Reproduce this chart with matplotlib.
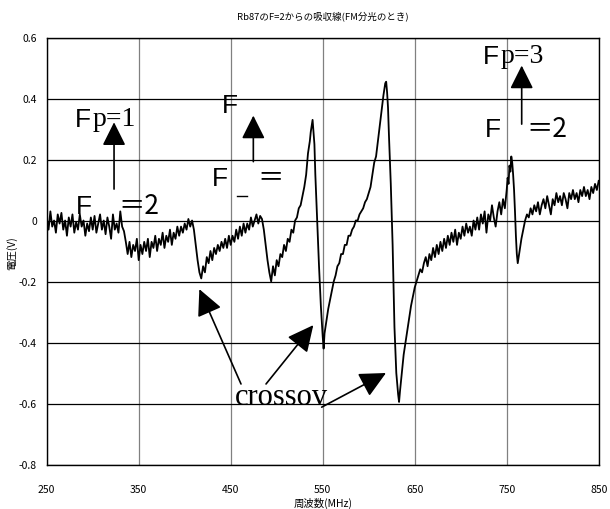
import matplotlib
matplotlib.use("Agg")
import matplotlib.pyplot as plt

# ---- data ----
freq = [250, 252, 254, 256, 258, 260, 262, 264, 266, 268, 270, 272, 274, 276, 278, 280, 282, 284, 286, 288,
        290, 292, 294, 296, 298, 300, 302, 304, 306, 308, 310, 312, 314, 316, 318, 320, 322, 324, 326, 328,
        330, 332, 334, 336, 338, 340, 342, 344, 346, 348, 350, 352, 354, 356, 358, 360, 362, 364, 366, 368,
        370, 372, 374, 376, 378, 380, 382, 384, 386, 388, 390, 392, 394, 396, 398, 400, 402, 404, 406, 408,
        410, 412, 414, 416, 418, 420, 422, 424, 426, 428, 430, 432, 434, 436, 438, 440, 442, 444, 446, 448,
        450, 452, 454, 456, 458, 460, 462, 464, 466, 468, 470, 472, 474, 476, 478, 480, 482, 484, 486, 488,
        490, 492, 494, 496, 498, 500, 502, 504, 506, 508, 510, 512, 514, 516, 518, 520, 522, 524, 526, 528,
        530, 532, 534, 536, 537, 538, 539, 540, 541, 542, 544, 546, 548, 550, 551, 552, 554, 556, 558, 560,
        562, 564, 566, 568, 570, 572, 574, 576, 578, 580, 582, 584, 586, 588, 590, 592, 594, 596, 598, 600,
        602, 604, 606, 608, 610, 612, 614, 616, 618, 619, 620, 621, 622, 624, 626, 628, 630, 632, 633, 634,
        636, 638, 640, 642, 644, 646, 648, 650, 652, 654, 656, 658, 660, 662, 664, 666, 668, 670, 672, 674,
        676, 678, 680, 682, 684, 686, 688, 690, 692, 694, 696, 698, 700, 702, 704, 706, 708, 710, 712, 714,
        716, 718, 720, 722, 724, 726, 728, 730, 732, 734, 736, 738, 740, 742, 744, 746, 748, 750, 751, 752,
        753, 754, 755, 756, 757, 758, 759, 760, 761, 762, 763, 764, 766, 768, 770, 772, 774, 776, 778, 780,
        782, 784, 786, 788, 790, 792, 794, 796, 798, 800, 802, 804, 806, 808, 810, 812, 814, 816, 818, 820,
        822, 824, 826, 828, 830, 832, 834, 836, 838, 840, 842, 844, 846, 848, 850]
volt = [0.01, -0.03, 0.03, -0.02, 0.00, -0.04, 0.02, -0.01, 0.025, -0.03, 0.00, -0.05, 0.01, -0.02, 0.02, -0.04, -0.005, -0.03, 0.02, -0.02,
        0.00, -0.05, -0.01, -0.035, 0.01, -0.03, 0.015, -0.04, -0.01, 0.02, -0.03, 0.00, -0.045, 0.01, -0.02, -0.06, 0.02, -0.03, -0.01, -0.04,
        0.03, -0.02, -0.035, -0.07, -0.11, -0.07, -0.12, -0.08, -0.10, -0.06, -0.13, -0.08, -0.11, -0.07, -0.10, -0.06, -0.12, -0.07, -0.09, -0.05,
        -0.10, -0.06, -0.08, -0.04, -0.09, -0.05, -0.07, -0.03, -0.08, -0.04, -0.06, -0.02, -0.05, -0.02, -0.04, -0.01, -0.03, 0.005, -0.02, 0.00,
        -0.03, -0.08, -0.13, -0.17, -0.19, -0.15, -0.17, -0.12, -0.14, -0.10, -0.13, -0.09, -0.11, -0.08, -0.10, -0.07, -0.09, -0.06, -0.09, -0.05,
        -0.08, -0.05, -0.07, -0.03, -0.06, -0.02, -0.05, -0.01, -0.04, -0.01, -0.03, 0.01, -0.02, 0.00, 0.02, -0.01, 0.015, 0.005, -0.03, -0.08,
        -0.13, -0.17, -0.20, -0.15, -0.18, -0.13, -0.15, -0.11, -0.12, -0.08, -0.10, -0.06, -0.07, -0.03, -0.04, 0.00, 0.01, 0.04, 0.05, 0.08,
        0.11, 0.15, 0.22, 0.26, 0.29, 0.31, 0.33, 0.29, 0.25, 0.15, 0.00, -0.15, -0.28, -0.38, -0.42, -0.37, -0.33, -0.29, -0.26, -0.23,
        -0.20, -0.18, -0.15, -0.14, -0.11, -0.11, -0.08, -0.08, -0.05, -0.05, -0.03, -0.02, 0.00, 0.00, 0.02, 0.03, 0.04, 0.06, 0.07, 0.09,
        0.11, 0.15, 0.19, 0.21, 0.26, 0.31, 0.36, 0.41, 0.45, 0.455, 0.42, 0.37, 0.28, 0.12, -0.08, -0.35, -0.50, -0.57, -0.595, -0.56,
        -0.50, -0.44, -0.40, -0.36, -0.32, -0.28, -0.25, -0.22, -0.20, -0.18, -0.16, -0.17, -0.14, -0.12, -0.15, -0.11, -0.13, -0.09, -0.12, -0.08,
        -0.11, -0.07, -0.10, -0.06, -0.09, -0.05, -0.08, -0.04, -0.07, -0.03, -0.08, -0.04, -0.06, -0.02, -0.05, -0.01, -0.04, -0.02, -0.05, 0.00,
        -0.03, 0.01, -0.03, 0.02, -0.01, 0.03, -0.04, 0.02, 0.00, 0.05, 0.01, -0.02, 0.03, 0.06, 0.02, 0.07, 0.04, 0.10, 0.14, 0.12,
        0.18, 0.16, 0.21, 0.19, 0.15, 0.10, 0.03, -0.05, -0.11, -0.14, -0.12, -0.10, -0.06, -0.03, 0.00, 0.02, 0.01, 0.04, 0.02, 0.05,
        0.03, 0.06, 0.02, 0.05, 0.07, 0.04, 0.08, 0.05, 0.02, 0.07, 0.05, 0.09, 0.06, 0.08, 0.05, 0.09, 0.07, 0.04, 0.09, 0.07,
        0.10, 0.07, 0.09, 0.06, 0.10, 0.08, 0.11, 0.08, 0.10, 0.07, 0.11, 0.09, 0.12, 0.10, 0.13]

x_ticks = [250, 350, 450, 550, 650, 750, 850]
y_ticks = [0.6, 0.4, 0.2, 0, -0.2, -0.4, -0.6, -0.8]
y_ticklabels = ["0.6", "0.4", "0.2", "0", "-0.2", "-0.4", "-0.6", "-0.8"]

title = "Rb87のF=2からの吸収線(FM分光のとき)"
xlabel = "周波数(MHz)"
ylabel = "電圧(V)"

NARROW = ["Liberation Sans Narrow", "Noto Sans CJK JP", "DejaVu Sans"]
SANS = ["Liberation Sans", "DejaVu Sans"]
SERIF = ["Liberation Serif", "DejaVu Serif"]
CJK = ["Noto Sans CJK JP", "DejaVu Sans"]

fig = plt.figure(figsize=(6.1, 5.1), dpi=100)
ax = fig.add_axes([46.7 / 610, 1 - 465.5 / 510, (598.7 - 46.7) / 610, (465.5 - 38.5) / 510])

ax.plot(freq, volt, color="black", lw=1.3, zorder=3)

ax.set_xlim(250, 850)
ax.set_ylim(-0.8, 0.6)
ax.set_xticks(x_ticks)
ax.set_yticks(y_ticks)
ax.set_yticklabels(y_ticklabels)
for lab in ax.get_xticklabels() + ax.get_yticklabels():
    lab.set_family(NARROW)
    lab.set_fontsize(7.5)
ax.tick_params(axis="x", length=0, pad=14)
ax.tick_params(axis="y", length=0, pad=7)

ax.grid(axis="y", color="black", lw=0.9)
ax.grid(axis="x", color="#808080", lw=0.9)
ax.set_axisbelow(True)
for s in ax.spines.values():
    s.set_color("black")
    s.set_linewidth(1.0)

fig.text(322.7 / 610, 1 - 16 / 510, title, ha="center", va="center", fontsize=6.8, family=NARROW)
fig.text(322.7 / 610, 1 - 503 / 510, xlabel, ha="center", va="center", fontsize=7.5, family=NARROW)
fig.text(12 / 610, 1 - 253 / 510, ylabel, ha="center", va="center", fontsize=7.5, family=NARROW, rotation=90)

# ---- annotations ----
arrow_up = dict(arrowstyle="-|>,head_length=0.4,head_width=0.2", color="black", lw=1.2,
                shrinkA=0, shrinkB=0, mutation_scale=36)
ax.annotate("", xy=(323.2, 0.322), xytext=(323.2, 0.103), arrowprops=arrow_up)
ax.annotate("", xy=(474.6, 0.344), xytext=(474.6, 0.193), arrowprops=arrow_up)
ax.annotate("", xy=(766.3, 0.508), xytext=(766.3, 0.316), arrowprops=arrow_up)

arrow_c = dict(arrowstyle="-|>,head_length=0.45,head_width=0.22", color="black", lw=1.2,
               shrinkA=0, shrinkB=0, mutation_scale=36)
ax.annotate("", xy=(415.9, -0.225), xytext=(461.2, -0.536), arrowprops=arrow_c)
ax.annotate("", xy=(539.8, -0.343), xytext=(488.4, -0.536), arrowprops=arrow_c)
ax.annotate("", xy=(618.8, -0.50), xytext=(548.9, -0.612), arrowprops=arrow_c)

FS = 19
ax.text(281.0, 0.333, "F", family=SANS, fontsize=FS, va="center", ha="left")
ax.text(299.5, 0.333, "p=1", family=SERIF, fontsize=20, va="center", ha="left")
ax.text(281.8, 0.048, "F", family=SANS, fontsize=FS, va="center", ha="left")
ax.text(327.5, 0.048, "＝2", family=CJK, fontsize=FS, va="center", ha="left")

ax.text(440.2, 0.379, "F", family=SANS, fontsize=FS, va="center", ha="left")
ax.text(429.3, 0.139, "F", family=SANS, fontsize=FS, va="center", ha="left")
ax.text(479.0, 0.143, "＝", family=CJK, fontsize=FS, va="center", ha="left")
ax.plot([457, 467.5], [0.081, 0.081], color="black", lw=1.0)

ax.text(724.2, 0.54, "F", family=SANS, fontsize=FS, va="center", ha="left")
ax.text(743.0, 0.54, "p=3", family=SERIF, fontsize=20, va="center", ha="left")
ax.text(726.4, 0.30, "F", family=SANS, fontsize=FS, va="center", ha="left")
ax.text(771.0, 0.30, "＝2", family=CJK, fontsize=FS, va="center", ha="left")

ax.text(454.7, -0.602, "crossov", family=SERIF, fontsize=22, va="baseline", ha="left")

fig.savefig("out.png", dpi=100)
